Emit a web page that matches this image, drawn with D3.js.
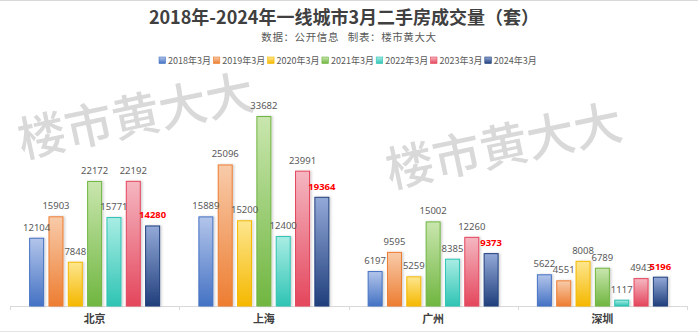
<!DOCTYPE html>
<html><head><meta charset="utf-8">
<script src="https://cdn.jsdelivr.net/npm/d3@7"></script>
<style>
html,body{margin:0;padding:0;background:#fff;}
svg{display:block;font-family:"Noto Sans CJK SC","Noto Sans",sans-serif;}
</style></head>
<body>
<script>
const cities = ["北京","上海","广州","深圳"];
const years = ["2018年3月","2019年3月","2020年3月","2021年3月","2022年3月","2023年3月","2024年3月"];
const v2018 = [12104,15889,6197,5622];
const v2019 = [15903,25096,9595,4551];
const v2020 = [7848,15200,5259,8008];
const v2021 = [22172,33682,15002,6789];
const v2022 = [15771,12400,8385,1117];
const v2023 = [22192,23991,12260,4943];
const v2024 = [14280,19364,9373,5196];
const series = [v2018,v2019,v2020,v2021,v2022,v2023,v2024];
const baseColors = ["#4472C4","#ED7D31","#F5B800","#70B640","#2EC4B4","#E4465C","#203F7C"];
const topColors  = ["#B3C5EA","#F8CBAA","#FDE68E","#C9E6AE","#A9EDE4","#F5B7C1","#93A9D8"];
const title = "2018年-2024年一线城市3月二手房成交量（套）";
const subtitle = "数据：公开信息\u00a0\u00a0\u00a0制表：楼市黄大大";
const watermark = "楼市黄大大";

const W = 698, H = 333;
const svg = d3.select("body").append("svg").attr("width", W).attr("height", H);
const defs = svg.append("defs");
years.forEach((y,i)=>{
  const g = defs.append("linearGradient").attr("id","g"+i).attr("x1",0).attr("y1",0).attr("x2",0).attr("y2",1);
  g.append("stop").attr("offset","0%").attr("stop-color",topColors[i]);
  g.append("stop").attr("offset","100%").attr("stop-color",baseColors[i]);
});
const f = defs.append("filter").attr("id","sh").attr("x","-30%").attr("y","-10%").attr("width","160%").attr("height","120%");
f.append("feDropShadow").attr("dx",1.5).attr("dy",0).attr("stdDeviation",1.2).attr("flood-color","#000").attr("flood-opacity",0.18);

// frame lines
svg.append("line").attr("x1",0).attr("x2",W).attr("y1",0.5).attr("y2",0.5).attr("stroke","#d9d9d9");
svg.append("line").attr("x1",0).attr("x2",W).attr("y1",331.5).attr("y2",331.5).attr("stroke","#e3e3e3");

// watermarks
[[22,158],[390,188]].forEach(p=>{
  svg.append("text").attr("transform",`translate(${p[0]},${p[1]}) rotate(-12)`)
    .attr("font-size",48).attr("font-weight",500).attr("fill","#d9d9d9").text(watermark);
});

// title
svg.append("text").attr("x",344).attr("y",24).attr("text-anchor","middle")
  .attr("font-size",18).attr("font-weight","bold").attr("fill","#404040").text(title);
svg.append("text").attr("x",349).attr("y",41).attr("text-anchor","middle")
  .attr("font-size",10.5).attr("fill","#595959").attr("letter-spacing",0.6).text(subtitle);

// legend
const lg = svg.append("g").attr("transform","translate(159,57)");
years.forEach((y,i)=>{
  const it = lg.append("g").attr("transform",`translate(${i*54.3},0)`);
  it.append("rect").attr("width",6.5).attr("height",6.5).attr("fill",`url(#g${i})`).attr("stroke",baseColors[i]).attr("stroke-width",0.6);
  it.append("text").attr("x",9).attr("y",6.6).attr("font-size",9).attr("fill","#595959").text(y);
});

// scales
const baseY = 306;
const x0 = d3.scaleBand().domain(cities).range([10,687]).padding(0);
const x1 = d3.scaleBand().domain(years).range([0,x0.bandwidth()]).paddingInner(0.224).paddingOuter(0.99);
const y = d3.scaleLinear().domain([0,35000]).range([baseY,108.6]);

// axis
const ax = svg.append("g").attr("transform",`translate(0,${baseY})`)
  .call(d3.axisBottom(x0).tickSize(0).tickPadding(9));
ax.select(".domain").attr("stroke","#d9d9d9").attr("d",`M10.5,0.5H687.5`);
ax.selectAll(".tick text").attr("font-size",11).attr("font-weight","bold").attr("fill","#404040")
  .attr("font-family",'"Noto Sans CJK SC",sans-serif');
const bounds = cities.map(c=>x0(c)).concat([x0.range()[1]]);
ax.selectAll(".sep").data(bounds).enter().append("line")
  .attr("x1",d=>Math.round(d)+0.5).attr("x2",d=>Math.round(d)+0.5).attr("y1",0).attr("y2",4).attr("stroke","#d9d9d9");

// bars
const groups = svg.append("g").selectAll("g").data(cities).enter().append("g")
  .attr("transform",c=>`translate(${x0(c)},0)`);
groups.each(function(c,ci){
  const g = d3.select(this);
  years.forEach((yr,si)=>{
    const v = series[si][ci];
    g.append("rect").attr("x",x1(yr)+0.5).attr("y",y(v)+0.5)
      .attr("width",x1.bandwidth()-1).attr("height",baseY-y(v)-0.5)
      .attr("fill",`url(#g${si})`).attr("stroke",baseColors[si]).attr("stroke-width",1)
      .attr("filter","url(#sh)");
  });
  years.forEach((yr,si)=>{
    const v = series[si][ci];
    const last = si===years.length-1;
    g.append("text").attr("x",x1(yr)+x1.bandwidth()/2).attr("y",y(v)-7)
      .attr("text-anchor","middle").attr("font-size",9.5)
      .attr("font-weight",last?"bold":"normal").attr("fill",last?"#FF0000":"#595959")
      .attr("font-family",'"Noto Sans","DejaVu Sans",sans-serif')
      .text(v);
  });
});
</script>
</body></html>
